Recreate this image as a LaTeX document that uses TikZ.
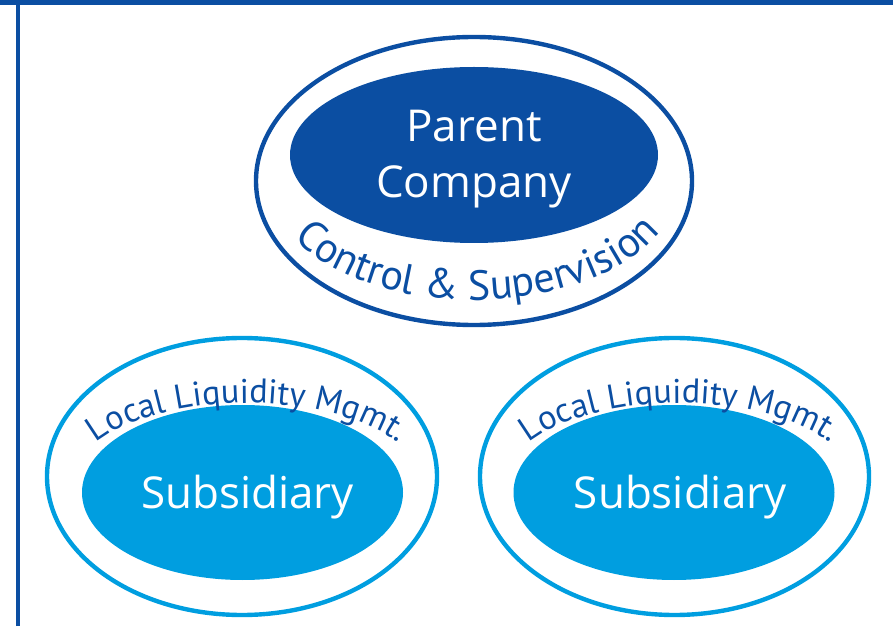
\documentclass[tikz,border=0pt]{standalone}
\usepackage{fontspec}
\setmainfont{Open Sans}
\newfontfamily\ringfamily{PT Sans}
\usepackage{xcolor}
\usetikzlibrary{shapes.geometric, decorations.text, calc}
\definecolor{parentblue}{RGB}{11,78,162}
\definecolor{subblue}{RGB}{0,158,224}
\newcommand\ovalfont{\fontsize{25}{32}\selectfont}
\newcommand\ringfont[1]{\ringfamily\fontsize{#1}{#1}\selectfont}
\newcommand\sunk[1]{\raisebox{-2.5pt}[\height][\depth]{#1}}
\tikzset{ring/.style={ellipse,draw,line width=2.5pt,inner sep=0pt},
         core/.style={ellipse,inner sep=0pt,text=white,align=center,font=\ovalfont},
         ringtext/.style 2 args={decorate,decoration={text along path,text align=center,
                          text color=parentblue,text={|\ringfont{#1}|#2}}}}

\begin{document}
\begin{tikzpicture}
    \useasboundingbox (0,0) rectangle (17.86,12.52);
    % frame
    \fill[parentblue] (0,12.42) rectangle (17.86,12.52);
    \draw[parentblue,line width=2pt] (0.36,0) -- (0.36,12.42);
    % parent
    \node (parentring) [ring, draw=parentblue, minimum width=8.72cm, minimum height=5.76cm] at (9.48,8.90) {};
    \node (parent) [core, fill=parentblue, minimum width=7.36cm, minimum height=3.52cm] at (9.48,9.42) {\sunk{Parent}\\\sunk{Company}};
    \path[ringtext={24}{Control {\&} Supervision}]
      ([shift={(200:4.12cm and 2.38cm)}]parentring.center) arc[start angle=200, end angle=344, x radius=4.12cm, y radius=2.38cm];
    % subsidiaries
    \node (leftring) [ring, draw=subblue, minimum width=7.8cm, minimum height=5.54cm] at (4.84,2.99) {};
    \node (leftsub) [core, fill=subblue, minimum width=6.42cm, minimum height=3.5cm] at (4.85,2.67) {\hspace*{0.2cm}\sunk{Subsidiary}};
    \path[ringtext={19.5}{Local Liquidity Mgmt.}]
      ([shift={(155:3.52cm and 1.64cm)}]$(leftring.center)+(0.1,-0.17)$) arc[start angle=155, end angle=25, x radius=3.52cm, y radius=1.64cm];
    \node (rightring) [ring, draw=subblue, minimum width=7.78cm, minimum height=5.54cm] at (13.49,2.99) {};
    \node (rightsub) [core, fill=subblue, minimum width=6.42cm, minimum height=3.5cm] at (13.48,2.67) {\hspace*{0.25cm}\sunk{Subsidiary}};
    \path[ringtext={19.5}{Local Liquidity Mgmt.}]
      ([shift={(155:3.52cm and 1.64cm)}]$(rightring.center)+(0.1,-0.17)$) arc[start angle=155, end angle=25, x radius=3.52cm, y radius=1.64cm];
\end{tikzpicture}
\end{document}
